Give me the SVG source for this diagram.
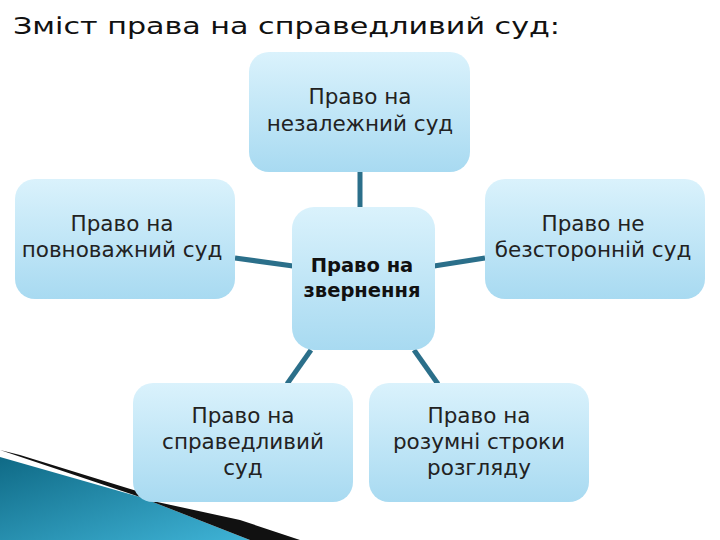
<svg xmlns="http://www.w3.org/2000/svg" width="720" height="540" viewBox="0 0 720 540">
<style>
.n{fill:url(#g)}
.t{font-family:"DejaVu Sans","Noto Sans",sans-serif;font-size:21.5px;fill:#222;text-anchor:middle}
.b{font-weight:bold;fill:#111;font-size:19.5px}
.c{stroke:#2b6f8a;stroke-width:5;fill:none}
</style>
<defs>
<linearGradient id="g" x1="0" y1="0" x2="0" y2="1"><stop offset="0" stop-color="#daf2fc"/><stop offset="1" stop-color="#a8daf1"/></linearGradient>
<linearGradient id="w" x1="0" y1="0" x2="1" y2="1"><stop offset="0" stop-color="#0f6a86"/><stop offset="1" stop-color="#3fb3d6"/></linearGradient>
</defs>
<rect width="720" height="540" fill="#fff"/>
<polygon points="0,457 140,497 250,540 0,540" fill="url(#w)"/>
<polygon points="0,450 20,455 140,492 148,500 240,520 300,540 250,540 140,497" fill="#111"/>
<text x="13" y="34" font-family="DejaVu Sans,sans-serif" font-size="23" textLength="547" lengthAdjust="spacingAndGlyphs" fill="#111">Зміст права на справедливий суд:</text>
<g id="connectors">
<line class="c" x1="360" y1="172" x2="360" y2="208"/>
<line class="c" x1="235" y1="258" x2="293" y2="266"/>
<line class="c" x1="434" y1="266" x2="485" y2="258"/>
<line class="c" x1="311" y1="350" x2="287" y2="384"/>
<line class="c" x1="414" y1="350" x2="438" y2="384"/>
</g>
<g id="top"><rect class="n" x="249" y="52" width="221" height="120" rx="20"/><text class="t" x="360" y="104">Право на</text><text class="t" x="360" y="131">незалежний суд</text></g>
<g id="left"><rect class="n" x="15" y="179" width="220" height="120" rx="20"/><text class="t" x="122" y="231">Право на</text><text class="t" x="122" y="257">повноважний суд</text></g>
<g id="center"><rect class="n" x="292" y="207" width="143" height="143" rx="22"/><text class="t b" x="362" y="272">Право на</text><text class="t b" x="362" y="297">звернення</text></g>
<g id="right"><rect class="n" x="485" y="179" width="220" height="120" rx="20"/><text class="t" x="593" y="231">Право не</text><text class="t" x="593" y="257">безсторонній суд</text></g>
<g id="bl"><rect class="n" x="133" y="383" width="220" height="119" rx="20"/><text class="t" x="243" y="423">Право на</text><text class="t" x="243" y="449">справедливий</text><text class="t" x="243" y="475">суд</text></g>
<g id="br"><rect class="n" x="369" y="383" width="220" height="119" rx="20"/><text class="t" x="479" y="423">Право на</text><text class="t" x="479" y="449">розумні строки</text><text class="t" x="479" y="475">розгляду</text></g>
</svg>
